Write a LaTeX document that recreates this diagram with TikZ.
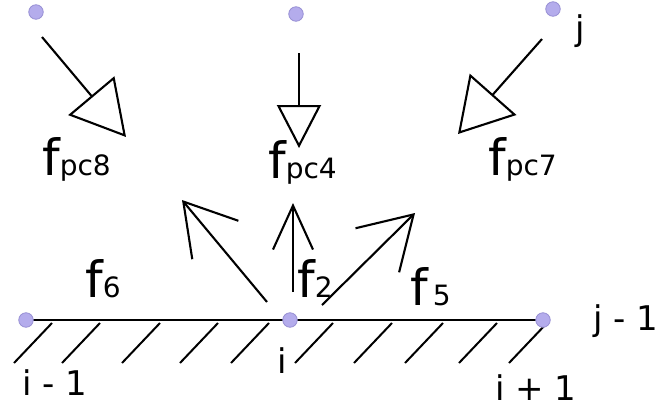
\documentclass[tikz,border=0pt]{standalone}
\usepackage{fontspec}
\setmainfont{DejaVu Sans}
\usetikzlibrary{arrows.meta}
\definecolor{dotfill}{HTML}{B4ACEC}
\definecolor{dotline}{HTML}{9890D4}

\begin{document}
\begin{tikzpicture}[
  x=1pt, y=-1pt,
  pt/.style={circle, draw=dotline, fill=dotfill, line width=0.8pt, minimum size=14.5pt, inner sep=0pt},
  lbl/.style={anchor=base west, inner sep=0pt, font=\fontsize{34}{34}\selectfont},
  flbl/.style={anchor=base west, inner sep=0pt, font=\fontsize{50}{50}\selectfont},
  ln/.style={line width=2.2pt, draw=black},
  hatch/.style={line width=2pt, draw=black},
  outarr/.style={line width=2.1pt, draw=black},
  inarr/.style={line width=2.1pt, draw=black}
]
\useasboundingbox (0,0) rectangle (665,408);
\newcommand{\sub}[1]{{\fontsize{28}{28}\selectfont #1}}
% grid points
\coordinate (a1) at (36,12);
\coordinate (a2) at (296,14);
\coordinate (a3) at (553,9);
\coordinate (b1) at (26,320);
\coordinate (b2) at (290,320);
\coordinate (b3) at (543,320);
% wall
\draw[ln] (b1) -- (b3);
\foreach \x in {52,100,160,218,269,333,392,443,497,547}
  \draw[hatch] (\x,323) -- ++(-38,40);
% incoming directions
\coordinate (s8) at (42,37);  \coordinate (e8) at (126,137);
\coordinate (s4) at (299,53); \coordinate (e4) at (299,148);
\coordinate (s7) at (542,39); \coordinate (e7) at (458,134);
\draw[inarr, -{Triangle[open, length=54pt, width=60pt]}] (s8) -- (e8);
\draw[inarr, -{Triangle[open, length=43pt, width=44pt]}] (s4) -- (e4);
\draw[inarr, -{Triangle[open, length=53pt, width=62pt]}] (s7) -- (e7);
% outgoing directions
\coordinate (t6) at (267,302); \coordinate (h6) at (182,200);
\coordinate (t2) at (293,292); \coordinate (h2) at (293,203);
\coordinate (t5) at (322,305); \coordinate (h5) at (415,213);
\draw[outarr, -{Straight Barb[length=50pt, width=60pt]}] (t6) -- (h6);
\draw[outarr, -{Straight Barb[length=44pt, width=40pt]}] (t2) -- (h2);
\draw[outarr, -{Straight Barb[length=51pt, width=62pt]}] (t5) -- (h5);
% points
\node[pt] (p1) at (a1) {};
\node[pt] (p2) at (a2) {};
\node[pt] (p3) at (a3) {};
\node[pt] (q1) at (b1) {};
\node[pt] (q2) at (b2) {};
\node[pt] (q3) at (b3) {};
% labels
\node[flbl] (fpc8) at (42,175) {f\sub{pc8}};
\node[flbl] (fpc4) at (268,178) {f\sub{pc4}};
\node[flbl] (fpc7) at (488,175) {f\sub{pc7}};
\node[flbl] (f6) at (85,297) {f\sub{6}};
\node[flbl] (f2) at (297,297) {f\sub{2}};
\node[flbl] (f5) at (410,305) {f\hspace{5pt}\sub{5}};
\node[lbl] (lj) at (575,40) {j};
\node[lbl] (ljm) at (593,330) {j - 1};
\node[lbl] (lim) at (22,395) {i - 1};
\node[lbl] (li) at (277,373) {i};
\node[lbl] (lip) at (495,400) {i + 1};
\end{tikzpicture}
\end{document}
